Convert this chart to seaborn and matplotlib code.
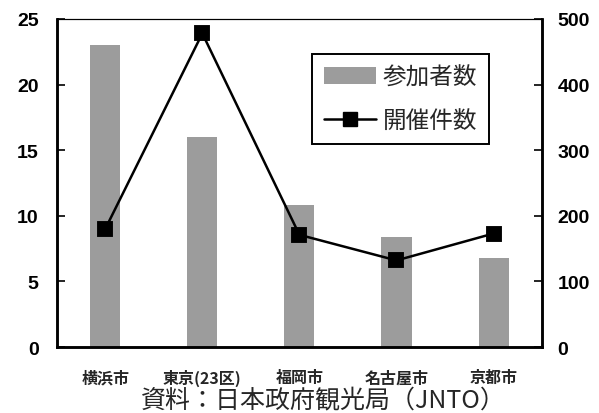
import matplotlib
matplotlib.use("Agg")
import matplotlib.pyplot as plt
import seaborn as sns
import pandas as pd
from matplotlib.patches import Patch
from matplotlib.lines import Line2D
from matplotlib.ticker import FixedLocator

cities = ["横浜市", "東京(23区)", "福岡市", "名古屋市", "京都市"]
participants = [23.0, 16.0, 10.85, 8.4, 6.8]      # left axis (万人)
events = [180, 478, 171, 132, 173]                 # right axis (件)
left_ticks = [0, 5, 10, 15, 20, 25]
right_ticks = [0, 100, 200, 300, 400, 500]
legend_labels = ["参加者数", "開催件数"]
caption = "資料：日本政府観光局（JNTO）"

sns.set_theme(style="white")
plt.rcParams['font.family'] = ['Noto Sans CJK JP', 'DejaVu Sans']

df = pd.DataFrame({"city": cities, "participants": participants, "events": events})

fig = plt.figure(figsize=(5.99, 4.14), dpi=100)
ax = fig.add_axes([0.0947, 0.1594, 0.8103, 0.7923])

bar_color = "#9c9c9c"
sns.barplot(data=df, x="city", y="participants", color=bar_color, width=0.31,
            saturation=1, ax=ax, edgecolor="none", linewidth=0)
ax.set_ylim(0, 25)
ax.set_xlim(-0.5, len(cities) - 0.5)
ax.set_xlabel("")
ax.set_ylabel("")
ax.set_yticks(left_ticks)
ax.set_yticklabels([str(t) for t in left_ticks], fontsize=14, family="Liberation Sans",
                   fontweight="bold")
ax.tick_params(axis="y", direction="in", length=6, width=1.2, pad=13, colors="black")
ax.tick_params(axis="x", which="major", length=0, pad=16)
ax.xaxis.set_minor_locator(FixedLocator([0.5, 1.5, 2.5, 3.5]))
ax.tick_params(axis="x", which="minor", direction="in", length=6, width=1.2, color="black")
for lab in ax.get_xticklabels():
    lab.set_fontsize(11.5)
    lab.set_fontweight("bold")

ax2 = ax.twinx()
sns.pointplot(data=df, x="city", y="events", color="black", markers="s",
              linestyles="-", ax=ax2, markersize=10, linewidth=1.8)
ax2.set_ylim(0, 500)
ax2.set_xlim(-0.5, len(cities) - 0.5)
ax2.set_ylabel("")
ax2.set_xlabel("")
ax2.set_yticks(right_ticks)
ax2.set_yticklabels([str(t) for t in right_ticks], fontsize=14, family="Liberation Sans",
                    fontweight="bold")
ax2.tick_params(axis="y", direction="in", length=6, width=1.2, pad=11, colors="black")

for a in (ax, ax2):
    a.spines["left"].set_linewidth(1.8)
    a.spines["bottom"].set_linewidth(1.8)
    a.spines["right"].set_linewidth(1.8)
    a.spines["top"].set_linewidth(0.8)
    for s in a.spines.values():
        s.set_color("black")

handles = [Patch(facecolor=bar_color, edgecolor="none"),
           Line2D([0], [0], color="black", lw=1.8, marker="s", markersize=10)]
leg = ax2.legend(handles, legend_labels, loc="upper right", bbox_to_anchor=(0.891, 0.893),
                 fontsize=17, frameon=True, fancybox=False, edgecolor="black",
                 handlelength=2.2, handletextpad=0.3, borderpad=0.5, labelspacing=0.85,
                 borderaxespad=0)
leg.get_frame().set_linewidth(1.4)
leg.get_frame().set_alpha(1)

fig.text(0.54, 0.0, caption, ha="center", va="bottom", fontsize=18)

fig.savefig("out.png", dpi=100)
